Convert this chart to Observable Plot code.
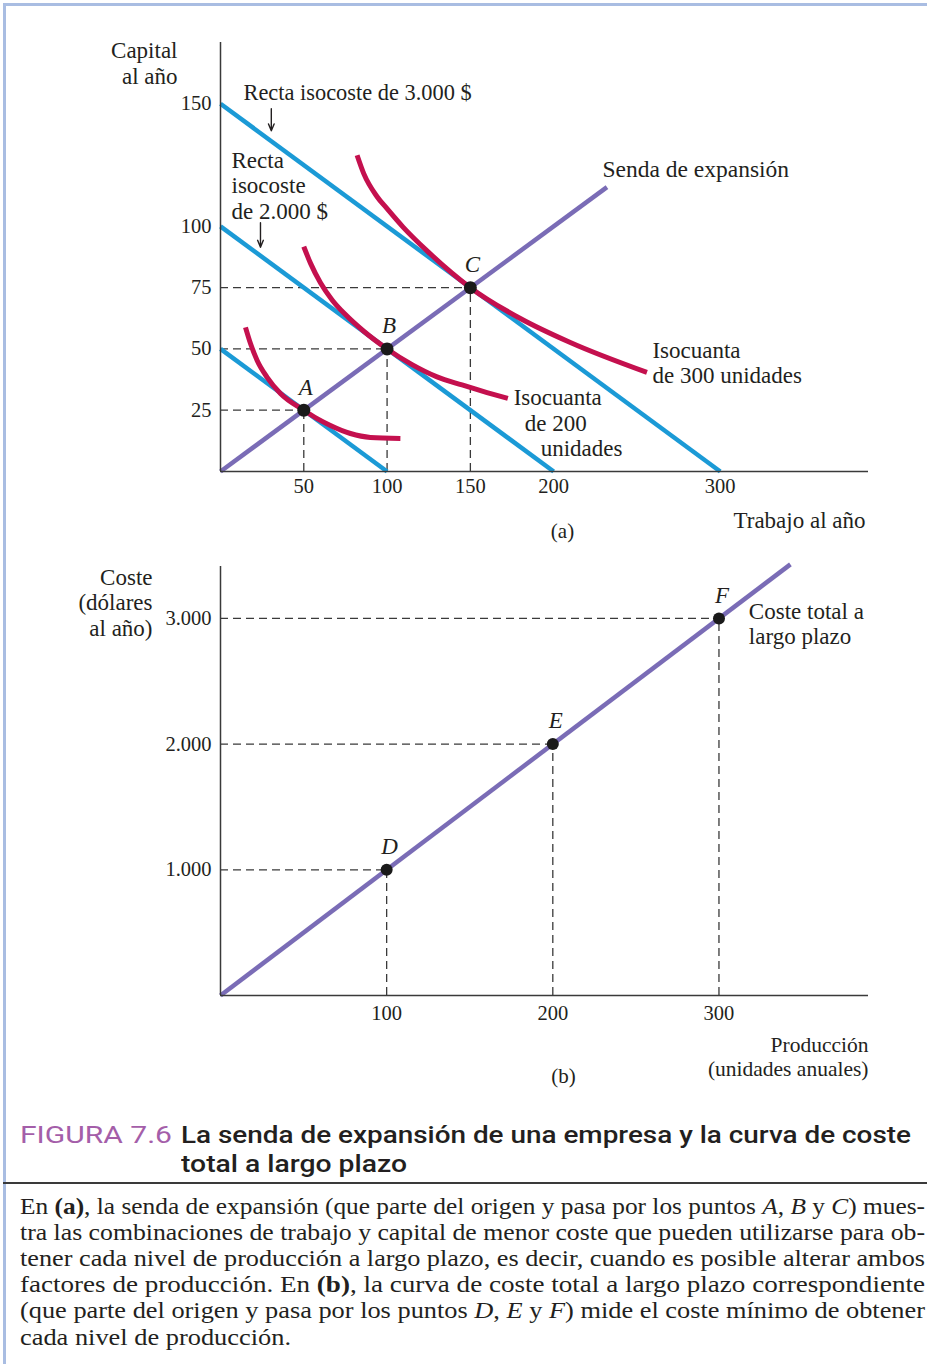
<!DOCTYPE html>
<html>
<head>
<meta charset="utf-8">
<script src="https://cdn.jsdelivr.net/npm/d3@7"></script>
<script src="https://cdn.jsdelivr.net/npm/@observablehq/plot@0.6"></script>
<style>
  html, body { margin: 0; padding: 0; background: #fff; }
  #page { position: relative; width: 927px; height: 1364px; overflow: hidden; background: #fff; }
  .abs { position: absolute; }
  .fit { white-space: nowrap; display: inline-block; transform-origin: 0 50%; }
  .cap { font-family: Roboto, "Open Sans", sans-serif; font-size: 24px; line-height: 29px; height: 29px; }
  .body { font-family: "Liberation Serif", serif; font-size: 23px; line-height: 26px; height: 26px; color: #231f20; }
  svg { overflow: visible; }
</style>
</head>
<body>
<div id="page">
  <div class="abs" style="left:3px;top:3px;width:924px;height:3px;background:#a9bde2"></div>
  <div class="abs" style="left:3px;top:3px;width:3px;height:1361px;background:#a9bde2"></div>
  <div id="plotA" class="abs" style="left:0;top:0"></div>
  <div id="plotB" class="abs" style="left:0;top:540px"></div>
  <div class="abs" style="left:3px;top:1182px;width:924px;height:2px;background:#3a3a3a"></div>

  <div class="abs cap" style="left:20px;top:1121px;color:#a45ea9;font-weight:400"><span class="fit" data-w="152">FIGURA 7.6</span></div>
  <div class="abs cap" style="left:181px;top:1121px;color:#231f20;font-weight:500"><span class="fit" data-w="730">La senda de expansión de una empresa y la curva de coste</span></div>
  <div class="abs cap" style="left:181px;top:1150px;color:#231f20;font-weight:500"><span class="fit" data-w="226">total a largo plazo</span></div>

  <div class="abs body" style="left:20px;top:1194px"><span class="fit" data-w="905">En <b>(a)</b>, la senda de expansión (que parte del origen y pasa por los puntos <i>A</i>, <i>B</i> y <i>C</i>) mues-</span></div>
  <div class="abs body" style="left:20px;top:1220px"><span class="fit" data-w="905">tra las combinaciones de trabajo y capital de menor coste que pueden utilizarse para ob-</span></div>
  <div class="abs body" style="left:20px;top:1246px"><span class="fit" data-w="905">tener cada nivel de producción a largo plazo, es decir, cuando es posible alterar ambos</span></div>
  <div class="abs body" style="left:20px;top:1272px"><span class="fit" data-w="905">factores de producción. En <b>(b)</b>, la curva de coste total a largo plazo correspondiente</span></div>
  <div class="abs body" style="left:20px;top:1298px"><span class="fit" data-w="905">(que parte del origen y pasa por los puntos <i>D</i>, <i>E</i> y <i>F</i>) mide el coste mínimo de obtener</span></div>
  <div class="abs body" style="left:20px;top:1325px"><span class="fit" data-w="271">cada nivel de producción.</span></div>
</div>
<script>
// ---------- Data: panel (a) ----------
const laborTicks = [50, 100, 150, 200, 300];
const capitalTicks = [25, 50, 75, 100, 150];

const isocostCosts = [1000, 2000, 3000];
const isocostMaxCapital = [50, 100, 150];
const isocostMaxLabor = [100, 200, 300];

const expansionLabor = [0, 232];
const expansionCapital = [0, 116];

const tangencyLabels = ["A", "B", "C"];
const tangencyLabor = [50, 100, 150];
const tangencyCapital = [25, 50, 75];

const isoquant100Labor = [15, 18, 22, 28, 36, 50, 58, 66, 78, 90, 108];
const isoquant100Capital = [58.8, 52.2, 45.3, 38.4, 31.8, 25, 21.6, 18.8, 15.5, 13.9, 13.5];
const isoquant200Labor = [50, 54, 60, 67, 75, 86, 100, 115, 130, 145, 160, 172.5];
const isoquant200Capital = [91.7, 85, 77, 70, 64, 57.2, 50, 43.6, 38.6, 35.3, 32.2, 29.8];
const isoquant300Labor = [82, 86, 93.8, 100, 109.6, 124, 150, 180, 210, 256];
const isoquant300Capital = [129, 121.5, 112.3, 107.2, 99.7, 90, 75, 62.4, 52.6, 40.4];

// ---------- Data: panel (b) ----------
const outputTicks = [100, 200, 300];
const costTicks = [1000, 2000, 3000];
const costTickLabels = ["1.000", "2.000", "3.000"];

const pointLabels = ["D", "E", "F"];
const pointOutput = [100, 200, 300];
const pointCost = [1000, 2000, 3000];

const totalCostOutput = [0, 343];
const totalCostValue = [0, 3430];

// ---------- Build tables ----------
const isocostData = isocostCosts.flatMap((c, i) => [
  {cost: c, L: 0, K: isocostMaxCapital[i]},
  {cost: c, L: isocostMaxLabor[i], K: 0}
]);
const expansion = expansionLabor.map((L, i) => ({L, K: expansionCapital[i]}));
const tangency = tangencyLabels.map((n, i) => ({n, L: tangencyLabor[i], K: tangencyCapital[i]}));
const isoquants = [
  ...isoquant100Labor.map((L, i) => ({q: 100, L, K: isoquant100Capital[i]})),
  ...isoquant200Labor.map((L, i) => ({q: 200, L, K: isoquant200Capital[i]})),
  ...isoquant300Labor.map((L, i) => ({q: 300, L, K: isoquant300Capital[i]}))
];
const costPoints = pointLabels.map((n, i) => ({n, q: pointOutput[i], c: pointCost[i]}));
const totalCost = totalCostOutput.map((q, i) => ({q, c: totalCostValue[i]}));

const INK = "#231f20";
const AXIS = "#3a3a3a";
const BLUE = "#1b9ad6";
const RED = "#c4104e";
const PURPLE = "#7a6cb6";
const DASH = {stroke: AXIS, strokeWidth: 1.3, strokeDasharray: "8,5"};
const FONT = "Liberation Serif, Times New Roman, serif";
const T = 23;  // label font size

const plotA = Plot.plot({
  width: 927, height: 560,
  marginLeft: 220, marginRight: 59, marginTop: 42, marginBottom: 89,
  x: {domain: [0, 389], axis: null, label: null},
  y: {domain: [0, 175], axis: null, label: null},
  style: {fontFamily: FONT, fontSize: "20.5px", color: INK, background: "transparent", overflow: "visible"},
  marks: [
    Plot.ruleY(tangency, {y: "K", x1: 0, x2: "L", ...DASH}),
    Plot.ruleX(tangency, {x: "L", y1: 0, y2: "K", ...DASH}),
    Plot.line(isocostData, {x: "L", y: "K", z: "cost", stroke: BLUE, strokeWidth: 4.5, strokeLinecap: "butt"}),
    Plot.line(isoquants, {x: "L", y: "K", z: "q", stroke: RED, strokeWidth: 5, curve: "monotone-x", strokeLinecap: "butt"}),
    Plot.line(expansion, {x: "L", y: "K", stroke: PURPLE, strokeWidth: 4.5, strokeLinecap: "butt"}),
    Plot.dot(tangency, {x: "L", y: "K", r: 6.5, fill: "#1a1a1a"}),
    Plot.ruleX([0], {stroke: AXIS, strokeWidth: 1.5}),
    Plot.ruleY([0], {stroke: AXIS, strokeWidth: 1.5}),
    Plot.axisX(laborTicks, {tickSize: 0, tickPadding: 7, fontSize: 20.5, fill: INK, label: null}),
    Plot.axisY(capitalTicks, {tickSize: 0, tickPadding: 9, fontSize: 20.5, fill: INK, label: null}),
    Plot.text(tangency, {x: "L", y: "K", text: "n", dx: 2, dy: -23, fontStyle: "italic", fontSize: T, fill: INK}),
    Plot.text(["Capital\nal año"], {text: d => d, frameAnchor: "top-left", dx: -43, dy: 20, textAnchor: "end", lineAnchor: "middle", lineHeight: 1.13, fontSize: T, fill: INK}),
    Plot.text(["Trabajo al año"], {text: d => d, frameAnchor: "bottom-right", dx: -3, dy: 49, textAnchor: "end", lineAnchor: "middle", fontSize: T, fill: INK}),
    Plot.text(["(a)"], {text: d => d, frameAnchor: "bottom", dx: 18, dy: 60, lineAnchor: "middle", fontSize: 21, fill: INK}),
    Plot.text(["Recta isocoste de 3.000 $"], {text: d => d, x: 13.8, y: 154.5, textAnchor: "start", lineAnchor: "middle", fontSize: 22.4, fill: INK}),
    Plot.text(["Recta\nisocoste\nde 2.000 $"], {text: d => d, x: 6.6, y: 116.8, textAnchor: "start", lineAnchor: "middle", lineHeight: 1.11, fontSize: T, fill: INK}),
    Plot.text(["Senda de expansión"], {text: d => d, x: 229.3, y: 123.1, textAnchor: "start", lineAnchor: "middle", fontSize: 23.5, fill: INK}),
    Plot.text(["Isocuanta\nde 300 unidades"], {text: d => d, x: 259.3, y: 44.6, textAnchor: "start", lineAnchor: "middle", lineHeight: 1.09, fontSize: T, fill: INK}),
    Plot.text(["Isocuanta"], {text: d => d, x: 176, y: 30.2, textAnchor: "start", lineAnchor: "middle", fontSize: T, fill: INK}),
    Plot.text(["de 200"], {text: d => d, x: 182.6, y: 19.6, textAnchor: "start", lineAnchor: "middle", fontSize: T, fill: INK}),
    Plot.text(["unidades"], {text: d => d, x: 192.2, y: 9.4, textAnchor: "start", lineAnchor: "middle", fontSize: T, fill: INK}),
    Plot.arrow([0], {x1: 30.5, y1: 148, x2: 30.5, y2: 139, stroke: INK, strokeWidth: 1.4, headLength: 8, headAngle: 45}),
    Plot.arrow([0], {x1: 24, y1: 101.5, x2: 24, y2: 91.5, stroke: INK, strokeWidth: 1.4, headLength: 8, headAngle: 45})
  ]
});
document.getElementById("plotA").append(plotA);

const plotB = Plot.plot({
  width: 927, height: 560,
  marginLeft: 220, marginRight: 59, marginTop: 26, marginBottom: 105,
  x: {domain: [0, 390], axis: null, label: null},
  y: {domain: [0, 3413], axis: null, label: null},
  style: {fontFamily: FONT, fontSize: "20.5px", color: INK, background: "transparent", overflow: "visible"},
  marks: [
    Plot.ruleY(costPoints, {y: "c", x1: 0, x2: "q", ...DASH}),
    Plot.ruleX(costPoints, {x: "q", y1: 0, y2: "c", ...DASH}),
    Plot.line(totalCost, {x: "q", y: "c", stroke: PURPLE, strokeWidth: 4.5, strokeLinecap: "butt"}),
    Plot.dot(costPoints, {x: "q", y: "c", r: 6, fill: "#1a1a1a"}),
    Plot.ruleX([0], {stroke: AXIS, strokeWidth: 1.5}),
    Plot.ruleY([0], {stroke: AXIS, strokeWidth: 1.5}),
    Plot.axisX(outputTicks, {tickSize: 0, tickPadding: 10, fontSize: 20.5, fill: INK, label: null}),
    Plot.axisY(costTicks, {tickSize: 0, tickPadding: 9, fontSize: 20.5, fill: INK, label: null, tickFormat: d => costTickLabels[costTicks.indexOf(d)]}),
    Plot.text(costPoints, {x: "q", y: "c", text: "n", dx: 3, dy: -23, fontStyle: "italic", fontSize: T, fill: INK}),
    Plot.text(["Coste\n(dólares\nal año)"], {text: d => d, frameAnchor: "top-left", dx: -68, dy: 35.5, textAnchor: "end", lineAnchor: "middle", lineHeight: 1.11, fontSize: T, fill: INK}),
    Plot.text(["Coste total a\nlargo plazo"], {text: d => d, x: 318, y: 2963, textAnchor: "start", lineAnchor: "middle", lineHeight: 1.09, fontSize: T, fill: INK}),
    Plot.text(["Producción\n(unidades anuales)"], {text: d => d, frameAnchor: "bottom-right", dx: 0, dy: 61, textAnchor: "end", lineAnchor: "middle", lineHeight: 1.12, fontSize: 21.5, fill: INK}),
    Plot.text(["(b)"], {text: d => d, frameAnchor: "bottom", dx: 19, dy: 81, lineAnchor: "middle", fontSize: 21, fill: INK})
  ]
});
document.getElementById("plotB").append(plotB);

function fitAll() {
  document.querySelectorAll(".fit").forEach(el => {
    el.style.transform = "none";
    const w = el.getBoundingClientRect().width;
    const target = +el.dataset.w;
    if (w > 0) el.style.transform = `scaleX(${target / w})`;
  });
}
fitAll();
if (document.fonts && document.fonts.ready) document.fonts.ready.then(fitAll);
</script>
</body>
</html>
